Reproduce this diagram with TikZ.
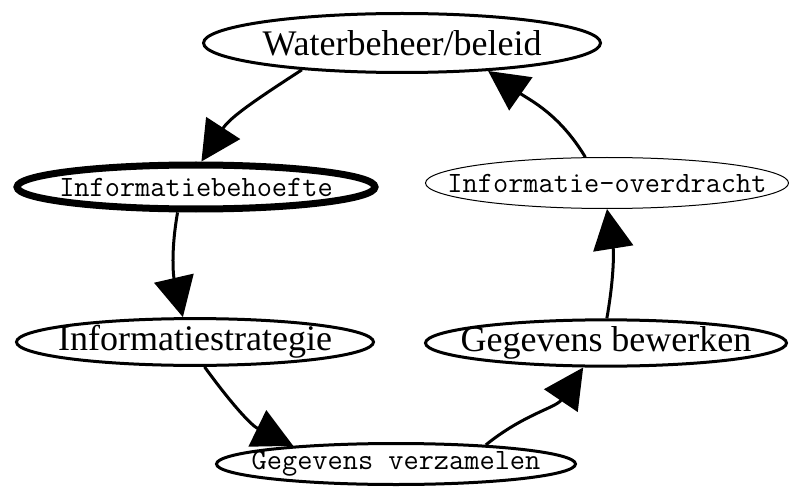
\documentclass[tikz,border=0pt]{standalone}
\usepackage{fontspec}
\setmainfont{Liberation Serif}
\usetikzlibrary{shapes.geometric, arrows.meta}
\newcommand\nowidth[1]{\makebox[0pt]{#1}}

\begin{document}
\begin{tikzpicture}[x = 1pt, y = 1pt,
        stage/.style = {ellipse, draw, line width = 3pt, inner sep = 0pt, font = \fontsize{36}{40}\selectfont},
        minor/.style = {stage, font = \ttfamily\fontsize{29.5}{32}\selectfont},
        flow/.style = {line width = 3pt, -{Triangle[length = 40pt, width = 40pt]}}]
    \useasboundingbox (0, 0) rectangle (789, -489);
    \node[stage, minimum width = 397pt, minimum height = 59pt] (water) at (402, -43) {\nowidth{Waterbeheer/beleid}};
    \node[minor, line width = 7pt, minimum width = 358pt, minimum height = 44pt] (behoefte) at (196, -187) {\nowidth{Informatiebehoefte}};
    \node[minor, line width = 1pt, minimum width = 363pt, minimum height = 51pt] (overdracht) at (607, -183) {\nowidth{Informatie-overdracht}};
    \node[stage, minimum width = 357pt, minimum height = 46pt] (strategie) at (195, -342) {\nowidth{Informatiestrategie}};
    \node[stage, minimum width = 361pt, minimum height = 45pt] (bewerken) at (606, -343) {\nowidth{Gegevens bewerken}};
    \node[minor, minimum width = 359pt, minimum height = 41pt] (verzamelen) at (396, -464) {\nowidth{Gegevens verzamelen}};
    % de cyclus
    \draw[flow] (water.195) to[out = 213, in = 57] (behoefte.78);
    \draw[flow] (behoefte.234) to[out = 260, in = 103] (strategie.116);
    \draw[flow] (strategie.291) to[out = 306, in = 154] (verzamelen.170);
    \draw[flow] (verzamelen.12) to[out = 39, in = 236] (bewerken.227);
    \draw[flow] (bewerken.88) to[out = 80, in = 279] (overdracht.270);
    \draw[flow] (overdracht.130) to[out = 121, in = 325] (water.342);
\end{tikzpicture}
\end{document}
